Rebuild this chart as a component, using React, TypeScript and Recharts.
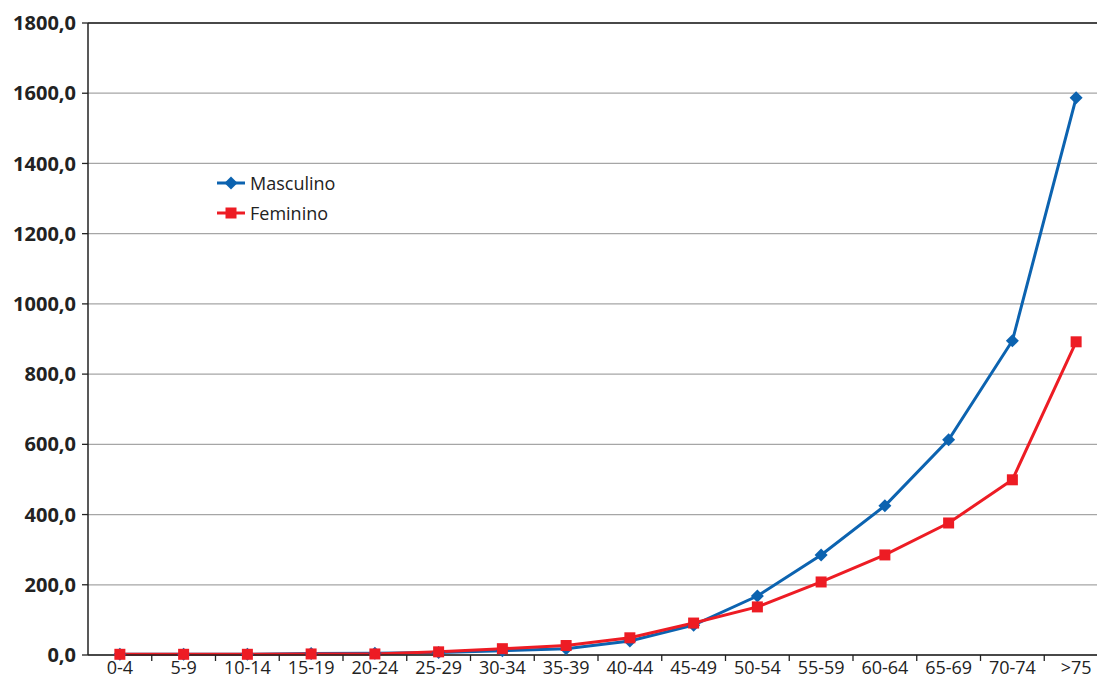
import React from 'react';
import {
  LineChart,
  Line,
  XAxis,
  YAxis,
  CartesianGrid,
  Legend,
  ReferenceLine,
} from 'recharts';

const ageGroups = ['0-4', '5-9', '10-14', '15-19', '20-24', '25-29', '30-34', '35-39', '40-44', '45-49', '50-54', '55-59', '60-64', '65-69', '70-74', '>75'];
const masculino = [2, 2, 2, 4, 5, 7, 12, 18, 40, 85, 168, 285, 425, 613, 895, 1587];
const feminino = [2, 2, 2, 3, 3, 9, 18, 27, 49, 91, 137, 208, 285, 376, 499, 892];
const yTicks = [0, 200, 400, 600, 800, 1000, 1200, 1400, 1600, 1800];

const data = ageGroups.map((g, i) => ({ group: g, Masculino: masculino[i], Feminino: feminino[i] }));

const BLUE = '#0c63b0';
const RED = '#ed1c24';
const FONT = '"Open Sans", "Noto Sans", sans-serif';

const CHART_W = 1112;
const CHART_H = 681;
const Y_W = 88;
const M_RIGHT = 4;
const BAND = (CHART_W - Y_W - M_RIGHT) / ageGroups.length;
const AXIS_Y = 655;

const fmt = (v: number) => v.toFixed(1).replace('.', ',');

function Diamond(props: any) {
  const { cx, cy } = props;
  if (cx == null || cy == null) return null;
  const r = 6.5;
  return <path d={`M${cx},${cy - r}L${cx + r},${cy}L${cx},${cy + r}L${cx - r},${cy}Z`} fill={BLUE} />;
}

function Square(props: any) {
  const { cx, cy } = props;
  if (cx == null || cy == null) return null;
  const s = 5.5;
  return <rect x={cx - s} y={cy - s} width={s * 2} height={s * 2} fill={RED} />;
}

function XTick(props: any) {
  const { x, payload } = props;
  return (
    <g>
      <line x1={x + BAND / 2} x2={x + BAND / 2} y1={AXIS_Y} y2={AXIS_Y + 6} stroke="#222" strokeWidth={1.3} />
      <text x={x} y={AXIS_Y + 19} textAnchor="middle" fontFamily={FONT} fontSize={18} fill="#222">
        {payload.value}
      </text>
    </g>
  );
}

function renderLegend() {
  const items = [
    { name: 'Masculino', color: BLUE, shape: 'diamond' },
    { name: 'Feminino', color: RED, shape: 'square' },
  ];
  return (
    <div style={{ fontFamily: FONT, fontSize: 18, color: '#222', lineHeight: '30px' }}>
      {items.map((it) => (
        <div key={it.name} style={{ display: 'flex', alignItems: 'center', height: 30, whiteSpace: 'nowrap' }}>
          <svg width={33} height={16} style={{ flex: 'none' }}>
            <line x1={2} x2={30} y1={8} y2={8} stroke={it.color} strokeWidth={3} />
            {it.shape === 'diamond' ? (
              <path d="M16,1.5L22.5,8L16,14.5L9.5,8Z" fill={it.color} />
            ) : (
              <rect x={10.5} y={2.5} width={11} height={11} fill={it.color} />
            )}
          </svg>
          <span style={{ marginLeft: 2 }}>{it.name}</span>
        </div>
      ))}
    </div>
  );
}

export default function App() {
  return (
    <div style={{ position: 'fixed', left: 0, top: 0, width: 1097, height: 681, overflow: 'hidden', background: '#fff' }}>
      <LineChart width={CHART_W} height={CHART_H} data={data} margin={{ top: 23, right: M_RIGHT, bottom: 0, left: 0 }}>
        <CartesianGrid vertical={false} stroke="#a6a6a6" strokeWidth={1.3} />
        <ReferenceLine y={1800} stroke="#222" strokeWidth={1.5} />
        <XAxis
          dataKey="group"
          height={CHART_H - AXIS_Y}
          padding={{ left: BAND / 2, right: BAND / 2 }}
          tickLine={false}
          axisLine={{ stroke: '#222', strokeWidth: 1.5 }}
          tick={<XTick />}
          interval={0}
        />
        <YAxis
          width={Y_W}
          domain={[0, 1800]}
          ticks={yTicks}
          tickFormatter={fmt}
          tickSize={6}
          tickLine={{ stroke: '#222', strokeWidth: 1.3 }}
          axisLine={{ stroke: '#222', strokeWidth: 1.5 }}
          tick={{ fontFamily: FONT, fontSize: 20, fontWeight: 700, fill: '#222', dx: -4 }}
        />
        <Legend
          layout="vertical"
          align="center"
          verticalAlign="middle"
          content={renderLegend}
          wrapperStyle={{ left: 215, top: 168, width: 180, height: 60 }}
        />
        <Line
          type="linear"
          dataKey="Masculino"
          stroke={BLUE}
          strokeWidth={3}
          dot={<Diamond />}
          activeDot={false}
          isAnimationActive={false}
        />
        <Line
          type="linear"
          dataKey="Feminino"
          stroke={RED}
          strokeWidth={3}
          dot={<Square />}
          activeDot={false}
          isAnimationActive={false}
        />
      </LineChart>
    </div>
  );
}
